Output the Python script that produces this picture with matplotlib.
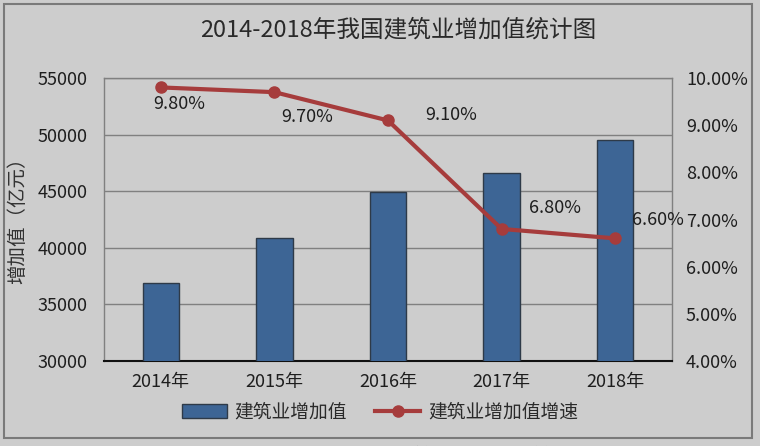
import matplotlib
matplotlib.use("Agg")
import matplotlib.pyplot as plt
from matplotlib.patches import Rectangle

plt.rcParams['font.family'] = ['Noto Sans CJK SC', 'DejaVu Sans']

# data
years = ['2014年', '2015年', '2016年', '2017年', '2018年']
added_value = [36900, 40900, 44900, 46600, 49500]   # 亿元
growth = [9.8, 9.7, 9.1, 6.8, 6.6]                  # %
growth_labels = ['9.80%', '9.70%', '9.10%', '6.80%', '6.60%']
left_ticks = [30000, 35000, 40000, 45000, 50000, 55000]
right_ticks = [4, 5, 6, 7, 8, 9, 10]

bg = '#cdcdcd'
bar_color = '#3d6595'
line_color = '#a63c3c'
txt = '#1e1e1e'

fig = plt.figure(figsize=(7.6, 4.46), dpi=100)
fig.patch.set_facecolor(bg)

# outer chart frame
fig.patches.append(Rectangle((4 / 760, 8 / 446), 748 / 760, 434 / 446,
                             transform=fig.transFigure, fill=False,
                             edgecolor='#7a7a7a', lw=1.5))

ax = fig.add_axes([104 / 760, 85 / 446, 568 / 760, 283 / 446])
ax.set_facecolor(bg)
x = range(len(years))
ax.bar(x, added_value, width=0.32, color=bar_color, edgecolor='#2e3a48',
       linewidth=1, zorder=3)
ax.set_ylim(30000, 55000)
ax.set_xlim(-0.5, 4.5)
ax.set_yticks(left_ticks)
ax.set_yticklabels([str(v) for v in left_ticks])
ax.set_xticks(list(x))
ax.set_xticklabels(years)
ax.grid(axis='y', color='#808080', lw=1, zorder=0)
ax.tick_params(axis='y', length=0, pad=12, labelsize=13, labelcolor=txt)
ax.tick_params(axis='x', length=0, pad=9, labelsize=13, labelcolor=txt)
for s in ['left', 'top', 'right']:
    ax.spines[s].set_color('#808080')
    ax.spines[s].set_linewidth(1)
ax.spines['bottom'].set_color('#111111')
ax.spines['bottom'].set_linewidth(1.5)

ax2 = ax.twinx()
ax2.plot(x, growth, color=line_color, lw=3, marker='o', markersize=8,
         zorder=5, label='建筑业增加值增速')
ax2.set_ylim(4, 10)
ax2.set_yticks(right_ticks)
ax2.set_yticklabels(['%.2f%%' % v for v in right_ticks])
ax2.tick_params(axis='y', length=0, pad=10, labelsize=13, labelcolor=txt)
for s in ax2.spines.values():
    s.set_visible(False)

# data labels, offsets in pixels from each point
offsets = [(18, -17), (33, -25), (63, 5), (53, 21), (43, 18)]
for xi, g, lab, off in zip(x, growth, growth_labels, offsets):
    ax2.annotate(lab, (xi, g), xytext=off, textcoords='offset pixels',
                 ha='center', va='center', fontsize=13, color=txt)

fig.text(398 / 760, 416 / 446, '2014-2018年我国建筑业增加值统计图',
         ha='center', va='center', fontsize=17, color='#2a2a2a')
fig.text(18 / 760, 230 / 446, '增加值（亿元）', rotation=90,
         ha='center', va='center', fontsize=14, color='#333333')

# legend
h1 = Rectangle((0, 0), 1, 1, facecolor=bar_color, edgecolor='#2e3a48', lw=1)
h2 = ax2.get_lines()[0]
fig.legend([h1, h2], ['建筑业增加值', '建筑业增加值增速'], loc='center',
           bbox_to_anchor=(380 / 760, 34 / 446), ncol=2, frameon=False,
           fontsize=13.5, handlelength=2.4, handleheight=0.8,
           handletextpad=0.4, columnspacing=1.5, labelcolor='#2a2a2a')

# caption of the source page, cut off at the bottom edge
fig.text(380 / 760, -13 / 446, '图1  2014-2018年我国建筑业增加值统计图',
         ha='center', va='center', fontsize=17, color='#333333')

fig.savefig('out.png', dpi=100, facecolor=bg)
